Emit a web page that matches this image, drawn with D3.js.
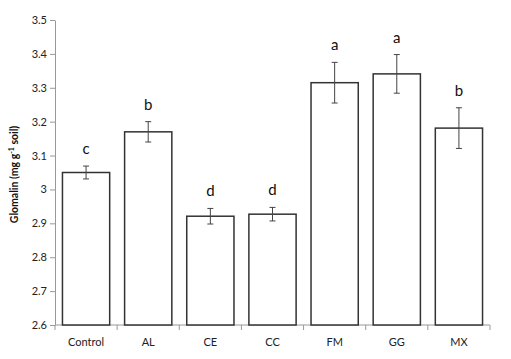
<!DOCTYPE html>
<html>
<head>
<meta charset="utf-8">
<script src="https://cdn.jsdelivr.net/npm/d3@7"></script>
<style>
  body { margin: 0; background: #fff; }
  text { font-family: Lato, "Open Sans", sans-serif; }
</style>
</head>
<body>
<div id="chart"></div>
<script>
// chart data
const treatments = ["Control", "AL", "CE", "CC", "FM", "GG", "MX"];
const glomalin = [3.05, 3.17, 2.921, 2.927, 3.315, 3.341, 3.181];
const stdErr = [0.019, 0.03, 0.023, 0.02, 0.06, 0.057, 0.06];
const groups = ["c", "b", "d", "d", "a", "a", "b"];
const yTicks = [2.6, 2.7, 2.8, 2.9, 3, 3.1, 3.2, 3.3, 3.4, 3.5];

let width = 511, height = 359;
let margin = {top: 20, right: 21, bottom: 34, left: 55};

let svg = d3.select("#chart")
    .append("svg")
    .attr("width", width)
    .attr("height", height)
    .append("g")
    .attr("transform", `translate(${margin.left}, ${margin.top})`);

let plot_w = width - margin.left - margin.right,
    plot_h = height - margin.top - margin.bottom;

let x = d3.scaleBand()
    .domain(treatments)
    .range([0, plot_w])
    .paddingInner(0.24)
    .paddingOuter(0.12);

let y = d3.scaleLinear()
    .domain([2.6, 3.5])
    .range([plot_h, 0]);

// y axis
let yAxis = svg.append("g")
    .call(d3.axisLeft(y).tickValues(yTicks).tickSize(5).tickSizeOuter(0)
        .tickFormat(d3.format("")));
yAxis.selectAll("line, path").attr("stroke", "#999");
yAxis.selectAll("text").attr("font-size", 11).attr("fill", "#222").attr("x", -8);

// x axis - ticks sit between categories like Excel
let xAxis = svg.append("g")
    .attr("transform", `translate(0, ${plot_h})`);
xAxis.append("line")
    .attr("x1", 0).attr("x2", plot_w)
    .attr("stroke", "#999");
let step = x.step();
let bounds = treatments.map((d, i) => x(d) - x.padding() * step / 2).concat([plot_w]);
bounds[0] = 0;
xAxis.selectAll(".xt")
    .data(bounds)
    .enter().append("line")
    .attr("x1", d => d).attr("x2", d => d)
    .attr("y1", 0).attr("y2", 5)
    .attr("stroke", "#999");
xAxis.selectAll(".xl")
    .data(treatments)
    .enter().append("text")
    .attr("x", d => x(d) + x.bandwidth() / 2)
    .attr("y", 21)
    .attr("text-anchor", "middle")
    .attr("font-size", 11)
    .attr("fill", "#222")
    .text(d => d);

// bars
svg.selectAll(".bar")
    .data(treatments)
    .enter().append("rect")
    .attr("x", d => x(d))
    .attr("y", (d, i) => y(glomalin[i]))
    .attr("width", x.bandwidth())
    .attr("height", (d, i) => y(2.6) - y(glomalin[i]))
    .attr("fill", "white")
    .attr("stroke", "#333")
    .attr("stroke-width", 1.5);

// error bars
let err = svg.selectAll(".err")
    .data(treatments)
    .enter().append("g")
    .attr("transform", d => `translate(${x(d) + x.bandwidth() / 2}, 0)`);
err.append("line")
    .attr("y1", (d, i) => y(glomalin[i] + stdErr[i]))
    .attr("y2", (d, i) => y(glomalin[i] - stdErr[i]))
    .attr("stroke", "#444");
err.append("line")
    .attr("x1", -3).attr("x2", 3)
    .attr("y1", (d, i) => y(glomalin[i] + stdErr[i]))
    .attr("y2", (d, i) => y(glomalin[i] + stdErr[i]))
    .attr("stroke", "#444");
err.append("line")
    .attr("x1", -3).attr("x2", 3)
    .attr("y1", (d, i) => y(glomalin[i] - stdErr[i]))
    .attr("y2", (d, i) => y(glomalin[i] - stdErr[i]))
    .attr("stroke", "#444");

// significance letters
err.append("text")
    .attr("y", (d, i) => y(glomalin[i] + stdErr[i]) - 12)
    .attr("text-anchor", "middle")
    .attr("font-size", 15)
    .attr("fill", "#111")
    .text((d, i) => groups[i]);

// y axis label
let ylab = svg.append("text")
    .attr("transform", `translate(-37, ${plot_h / 2 + 2}) rotate(-90)`)
    .attr("text-anchor", "middle")
    .attr("font-size", 10.5)
    .attr("font-weight", "bold")
    .attr("fill", "#111");
ylab.append("tspan").text("Glomalin (mg g");
ylab.append("tspan").attr("dy", -4).attr("font-size", 7).text("-1");
ylab.append("tspan").attr("dy", 4).text(" soil)");
</script>
</body>
</html>
